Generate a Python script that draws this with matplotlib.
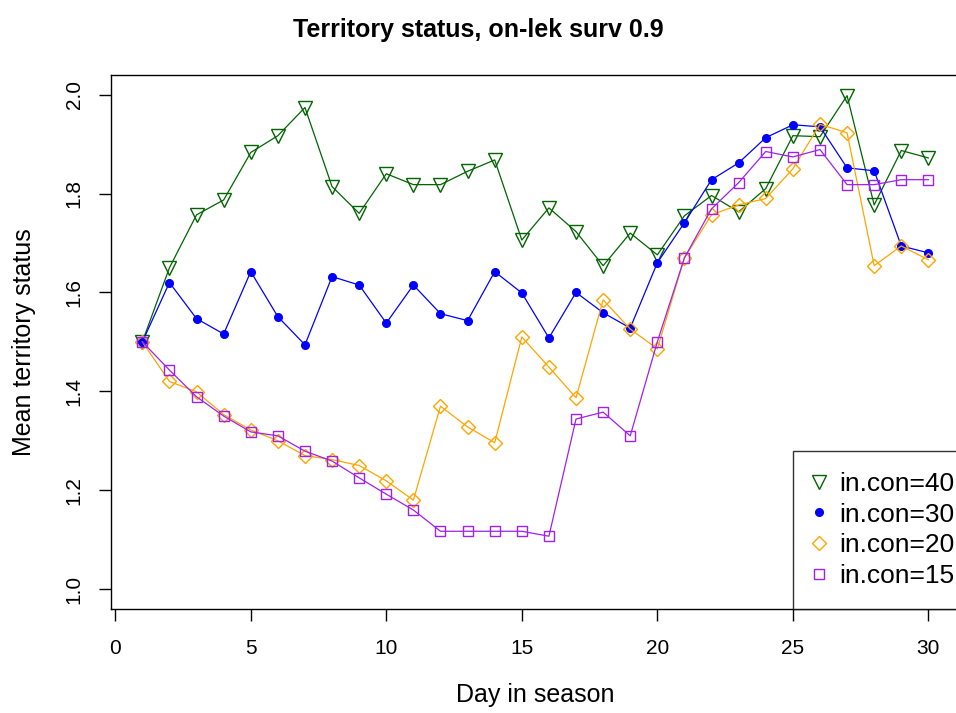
import numpy as np
import matplotlib
matplotlib.use("Agg")
import matplotlib.pyplot as plt
from matplotlib.lines import Line2D

plt.rcParams['font.family'] = ['Liberation Sans', 'DejaVu Sans']

days = list(range(1, 31))

# mean territory status per day, one list per in.con value
con40 = [1.500, 1.650, 1.757, 1.787, 1.883, 1.917, 1.974, 1.814, 1.760, 1.840,
         1.818, 1.818, 1.845, 1.868, 1.706, 1.771, 1.723, 1.654, 1.720, 1.676,
         1.755, 1.796, 1.763, 1.810, 1.917, 1.915, 1.998, 1.777, 1.887, 1.872]
con30 = [1.500, 1.620, 1.547, 1.516, 1.642, 1.551, 1.494, 1.632, 1.615, 1.538,
         1.615, 1.557, 1.543, 1.642, 1.599, 1.508, 1.600, 1.559, 1.528, 1.660,
         1.741, 1.828, 1.862, 1.913, 1.939, 1.935, 1.852, 1.846, 1.694, 1.680]
con20 = [1.500, 1.420, 1.399, 1.353, 1.322, 1.300, 1.270, 1.262, 1.250, 1.219,
         1.180, 1.370, 1.328, 1.296, 1.510, 1.449, 1.387, 1.585, 1.526, 1.486,
         1.670, 1.757, 1.777, 1.790, 1.850, 1.940, 1.923, 1.654, 1.694, 1.666]
con15 = [1.500, 1.443, 1.389, 1.350, 1.318, 1.310, 1.279, 1.259, 1.225, 1.192,
         1.160, 1.117, 1.117, 1.117, 1.117, 1.107, 1.344, 1.358, 1.310, 1.500,
         1.670, 1.769, 1.822, 1.885, 1.874, 1.889, 1.818, 1.818, 1.828, 1.828]

labels = ['in.con=40', 'in.con=30', 'in.con=20', 'in.con=15']
colors = ['#006400', '#0000FF', '#FFA500', '#A020F0']
markers = ['v', 'o', 'D', 's']
msizes = [10, 5.5, 7, 7.5]
series = [con40, con30, con20, con15]

fig = plt.figure(figsize=(9.56, 7.13), dpi=100)
ax = fig.add_axes([0.116, 0.146, 0.888, 0.749])

for ys, c, m, ms in zip(series, colors, markers, msizes):
    filled = (m == 'o')
    ax.plot(days, ys, color=c, lw=0.9, marker=m, ms=ms,
            mfc=c if filled else 'none', mec=c, mew=1.0)

ax.set_xlim(-0.16, 31.16)
ax.set_ylim(0.96, 2.04)
ax.set_xticks([0, 5, 10, 15, 20, 25, 30])
ax.set_yticks([1.0, 1.2, 1.4, 1.6, 1.8, 2.0])
ax.set_yticklabels(['1.0', '1.2', '1.4', '1.6', '1.8', '2.0'], rotation=90, va='center')
ax.tick_params(direction='out', length=8.5, width=1, labelsize=15)
ax.tick_params(axis='x', pad=13)
ax.tick_params(axis='y', pad=11)
for s in ax.spines.values():
    s.set_linewidth(1.0)

ax.set_xlabel('Day in season', fontsize=18, labelpad=18)
ax.set_ylabel('Mean territory status', fontsize=18, labelpad=21)
fig.suptitle('Territory status, on-lek surv 0.9', fontsize=18, fontweight='bold', y=0.975)

handles = [Line2D([], [], ls='none', marker=m, ms=ms, color=c,
                  mfc=c if m == 'o' else 'none', mec=c, mew=1.0)
           for c, m, ms in zip(colors, markers, msizes)]
leg = fig.legend(handles, labels, loc='upper left', bbox_to_anchor=(793 / 956, 1 - 451 / 713),
                 fontsize=19, frameon=True, fancybox=False, edgecolor='black',
                 handlelength=0.35, handletextpad=0.62, labelspacing=0.25,
                 borderpad=0.8, borderaxespad=0)
leg.get_frame().set_linewidth(1.0)

fig.savefig('out.png', dpi=100)
